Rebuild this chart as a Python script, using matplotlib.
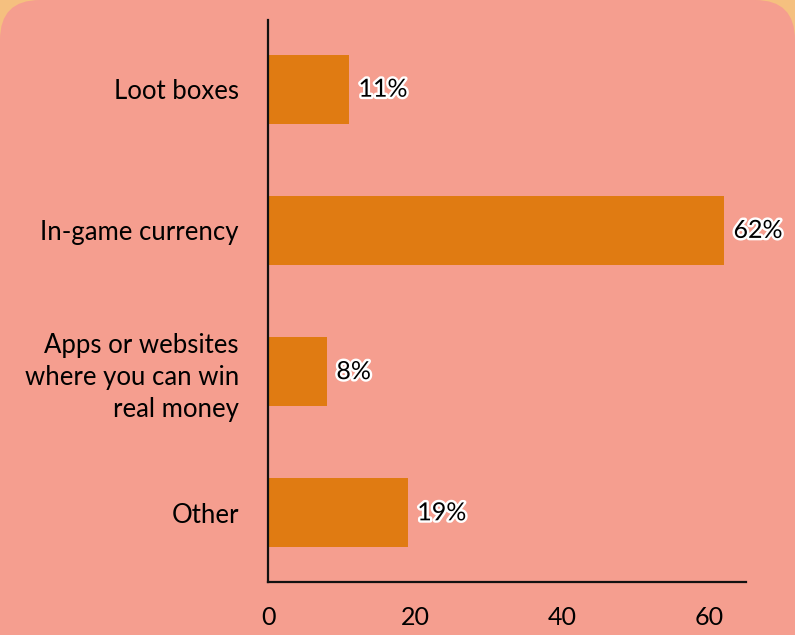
import matplotlib.pyplot as plt
import matplotlib.patheffects as pe
from matplotlib.patches import FancyBboxPatch

plt.rcParams['font.family'] = ['Lato', 'DejaVu Sans']

categories = ['Loot boxes', 'In-game currency',
              'Apps or websites\nwhere you can win\nreal money', 'Other']
values = [11, 62, 8, 19]
labels = ['11%', '62%', '8%', '19%']

fig = plt.figure(figsize=(7.95, 6.35), dpi=100)
fig.patch.set_facecolor('#F5C07F')
# rounded pink panel
panel = FancyBboxPatch((0.0, -0.2), 1.0, 1.2, boxstyle='round,pad=0,rounding_size=0.05',
                       transform=fig.transFigure, facecolor='#F59E8F', edgecolor='none',
                       mutation_aspect=795 / 635, zorder=-5)
fig.patches.append(panel)

ax = fig.add_axes([268 / 795, 1 - 582 / 635, (746 - 268) / 795, (582 - 20) / 635])
ax.set_facecolor('none')
ax.barh(range(len(values)), values, height=0.49, color='#E07B12')
for i, (v, t) in enumerate(zip(values, labels)):
    ax.text(v + 1.3, i, t, va='center', ha='left', fontsize=18, color='black',
            path_effects=[pe.withStroke(linewidth=3.5, foreground='white')])

ax.set_yticks(range(len(values)))
ax.set_yticklabels(categories, fontsize=18.5, linespacing=1.36)
ax.set_ylim(3.49, -0.49)
ax.set_xlim(0, 65)
ax.set_xticks([0, 20, 40, 60])
ax.tick_params(axis='x', labelsize=18, length=0, pad=17)
ax.tick_params(axis='y', length=0, pad=21)
for s in ['top', 'right']:
    ax.spines[s].set_visible(False)
for s in ['left', 'bottom']:
    ax.spines[s].set_linewidth(1.6)
    ax.spines[s].set_color('#111111')

fig.savefig('out.png', dpi=100, facecolor=fig.get_facecolor())
